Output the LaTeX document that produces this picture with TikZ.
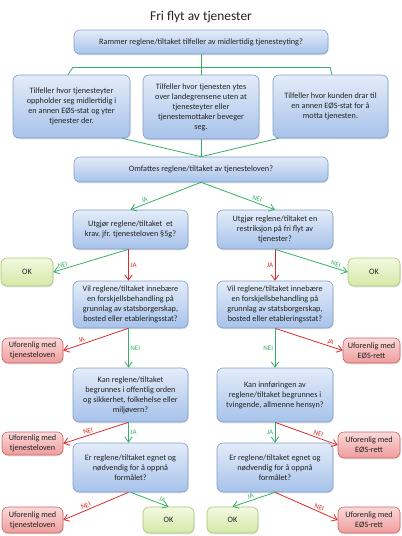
\documentclass[tikz,border=0pt]{standalone}
\usepackage{fontspec}
\setmainfont{Carlito}
\usetikzlibrary{arrows.meta,shadows}
\definecolor{FlytText}{HTML}{222222}
\definecolor{FlytBlueTop}{HTML}{E3ECF9}
\definecolor{FlytBlueBot}{HTML}{A7C2EA}
\definecolor{FlytBlueLine}{HTML}{7F9DC6}
\definecolor{FlytOkTop}{HTML}{F3F9E1}
\definecolor{FlytOkBot}{HTML}{D4E9A8}
\definecolor{FlytOkLine}{HTML}{A9C56F}
\definecolor{FlytNoTop}{HTML}{FBD9D9}
\definecolor{FlytNoBot}{HTML}{EE9C9C}
\definecolor{FlytNoLine}{HTML}{CF6464}
\definecolor{FlytGreen}{HTML}{36AE66}
\definecolor{FlytRed}{HTML}{D92B2B}
\newcommand{\boxfont}{\fontsize{8.2}{10}\selectfont}
\newcommand{\lblfont}{\fontsize{7}{7.5}\selectfont}
\tikzset{
  question/.style={draw=FlytBlueLine,line width=0.6pt,rounded corners=6pt,top color=FlytBlueTop,bottom color=FlytBlueBot,
    align=center,font=\boxfont,text=FlytText,inner sep=1pt,
    drop shadow={opacity=0.22,shadow xshift=0.7pt,shadow yshift=-1.3pt}},
  okbox/.style={question,draw=FlytOkLine,top color=FlytOkTop,bottom color=FlytOkBot},
  nobox/.style={question,draw=FlytNoLine,top color=FlytNoTop,bottom color=FlytNoBot},
  link/.style={draw=FlytGreen,line width=0.8pt},
  go/.style={-{Straight Barb[length=1.8mm,width=2.6mm]},line width=0.8pt,draw=FlytGreen},
  stop/.style={-{Straight Barb[length=1.8mm,width=2.6mm]},line width=0.8pt,draw=FlytRed},
  golbl/.style={font=\lblfont,text=FlytGreen,inner sep=1.5pt},
  stoplbl/.style={font=\lblfont,text=FlytRed,inner sep=1.5pt}
}
\begin{document}
\begin{tikzpicture}[x=1pt,y=-1pt]
  \useasboundingbox (0,0) rectangle (402,536);
  \node[text=FlytText] (title) at (201,17) {\fontsize{13.4}{15}\selectfont Fri flyt av tjenester};
  \node[question,minimum width=254pt,minimum height=24pt] (midl) at (201,42)
    {Rammer reglene/tiltaket tilfeller av midlertidig tjenesteyting?};
  \node[question,minimum width=117pt,minimum height=63pt] (opph) at (71.5,106.5)
    {Tilfeller hvor tjenesteyter\\oppholder seg midlertidig i\\en annen EØS-stat og yter\\tjenester der.};
  \node[question,minimum width=116pt,minimum height=64pt] (over) at (201,107)
    {Tilfeller hvor tjenesten ytes\\over landegrensene uten at\\tjenesteyter eller\\tjenestemottaker beveger\\seg.};
  \node[question,minimum width=115pt,minimum height=63pt] (kunde) at (330.5,106.5)
    {Tilfeller hvor kunden drar til\\en annen EØS-stat for å\\motta tjenesten.};
  \node[question,minimum width=254pt,minimum height=25pt] (omf) at (201,169.5)
    {Omfattes reglene/tiltaket av tjenesteloven?};

  \node[question,minimum width=115pt,minimum height=39pt] (krav) at (130.5,229.5)
    {Utgjør reglene/tiltaket~ et\\krav, jfr. tjenesteloven §5g?};
  \node[question,minimum width=116pt,minimum height=39pt] (restr) at (275,229.5)
    {Utgjør reglene/tiltaket en\\restriksjon på fri flyt av\\tjenester?};
  \node[okbox,minimum width=52pt,minimum height=28pt] (okA) at (27,272) {OK};
  \node[okbox,minimum width=52pt,minimum height=28pt] (okB) at (374,272) {OK};

  \node[question,minimum width=115pt,minimum height=47pt] (vilL) at (130.5,304.5)
    {Vil reglene/tiltaket innebære\\en forskjellsbehandling på\\grunnlag av statsborgerskap,\\bosted eller etableringsstat?};
  \node[question,minimum width=116pt,minimum height=47pt] (vilR) at (275,304.5)
    {Vil reglene/tiltaket innebære\\en forskjellsbehandling på\\grunnlag av statsborgerskap,\\bosted eller etableringsstat?};
  \node[nobox,minimum width=61pt,minimum height=25pt] (ufoA) at (32.5,350.5) {Uforenlig med\\tjenesteloven};
  \node[nobox,minimum width=57pt,minimum height=25pt] (ufoB) at (371.5,350.5) {Uforenlig med\\EØS-rett};

  \node[question,minimum width=115pt,minimum height=54pt] (kanL) at (130.5,395)
    {Kan reglene/tiltaket\\begrunnes i offentlig orden\\og sikkerhet, folkehelse eller\\miljøvern?};
  \node[question,minimum width=116pt,minimum height=54pt] (kanR) at (275,395)
    {Kan innføringen av\\reglene/tiltaket begrunnes i\\tvingende, allmenne hensyn?};
  \node[nobox,minimum width=61pt,minimum height=23pt] (ufoC) at (32.5,443.5) {Uforenlig med\\tjenesteloven};
  \node[nobox,minimum width=62pt,minimum height=26pt] (ufoD) at (369,445) {Uforenlig med\\EØS-rett};

  \node[question,minimum width=115pt,minimum height=49pt] (egnL) at (130.5,467.5)
    {Er reglene/tiltaket egnet og\\nødvendig for å oppnå\\formålet?};
  \node[question,minimum width=116pt,minimum height=49pt] (egnR) at (275,467.5)
    {Er reglene/tiltaket egnet og\\nødvendig for å oppnå\\formålet?};
  \node[nobox,minimum width=61pt,minimum height=26pt] (ufoE) at (32.5,520) {Uforenlig med\\tjenesteloven};
  \node[okbox,minimum width=51pt,minimum height=26pt] (okC) at (168.5,520) {OK};
  \node[okbox,minimum width=51pt,minimum height=26pt] (okD) at (232.5,520) {OK};
  \node[nobox,minimum width=62pt,minimum height=26pt] (ufoF) at (369,520) {Uforenlig med\\EØS-rett};

  % tree between the first question and the three cases
  \coordinate (split) at (201,67);
  \coordinate (splitL) at (73,67);
  \coordinate (splitR) at (330,67);
  \draw[link] (midl) -- (split);
  \draw[link] (splitL) -- (splitR);
  \draw[link] (splitL) -- ([xshift=-5pt]splitL |- opph.north);
  \draw[link] (splitR) -- ([xshift=2pt]splitR |- kunde.north);
  \draw[link] (split) -- (over);
  \draw[link] ([xshift=-8pt]opph.south east) -- (omf.north);
  \draw[link] (over) -- (omf);
  \draw[link] ([xshift=6pt]kunde.south west) -- (omf.north);

  \draw[go] (omf.south) -- node[golbl,sloped,above,pos=0.78] {JA} (krav.north);
  \draw[go] (omf.south) -- node[golbl,sloped,above,pos=0.74] {NEI} (restr.north);

  \draw[go] ([xshift=-2pt]krav.south) -- node[golbl,sloped,above,pos=0.86] {NEI} (okA.east);
  \draw[stop] ([xshift=-2pt]krav.south) -- node[stoplbl,right] {JA} ([xshift=-2pt]vilL.north);
  \draw[stop] (restr.south) -- node[stoplbl,left] {JA} (vilR.north);
  \draw[go] (restr.south) -- node[golbl,sloped,above,pos=0.82] {NEI} (okB.west);

  \draw[stop] ([xshift=-2pt]vilL.south) -- node[stoplbl,sloped,above,pos=0.7] {JA} (ufoA.east);
  \draw[go] ([xshift=-2pt]vilL.south) -- node[golbl,right] {NEI} ([xshift=-2pt]kanL.north);
  \draw[stop] (vilR.south) -- node[stoplbl,sloped,above,pos=0.8] {JA} (ufoB.west);
  \draw[go] (vilR.south) -- node[golbl,left] {NEI} (kanR.north);

  \draw[stop] ([xshift=-2pt]kanL.south) -- node[stoplbl,sloped,above,pos=0.6] {NEI} (ufoC.east);
  \draw[go] ([xshift=-2pt]kanL.south) -- node[golbl,right] {JA} ([xshift=-2pt]egnL.north);
  \draw[stop] (kanR.south) -- node[stoplbl,sloped,above,pos=0.67] {NEI} (ufoD.west);
  \draw[go] (kanR.south) -- node[golbl,left] {JA} (egnR.north);

  \draw[stop] ([xshift=-2pt]egnL.south) -- node[stoplbl,sloped,above,pos=0.63] {NEI} (ufoE.east);
  \draw[go] (egnL.south) -- node[golbl,sloped,above,pos=0.8] {JA} (okC.north);
  \draw[go] (egnR.south) -- node[golbl,sloped,above,pos=0.55] {JA} (okD.north);
  \draw[stop] (egnR.south) -- node[stoplbl,sloped,above,pos=0.68] {NEI} (ufoF.west);
\end{tikzpicture}
\end{document}
